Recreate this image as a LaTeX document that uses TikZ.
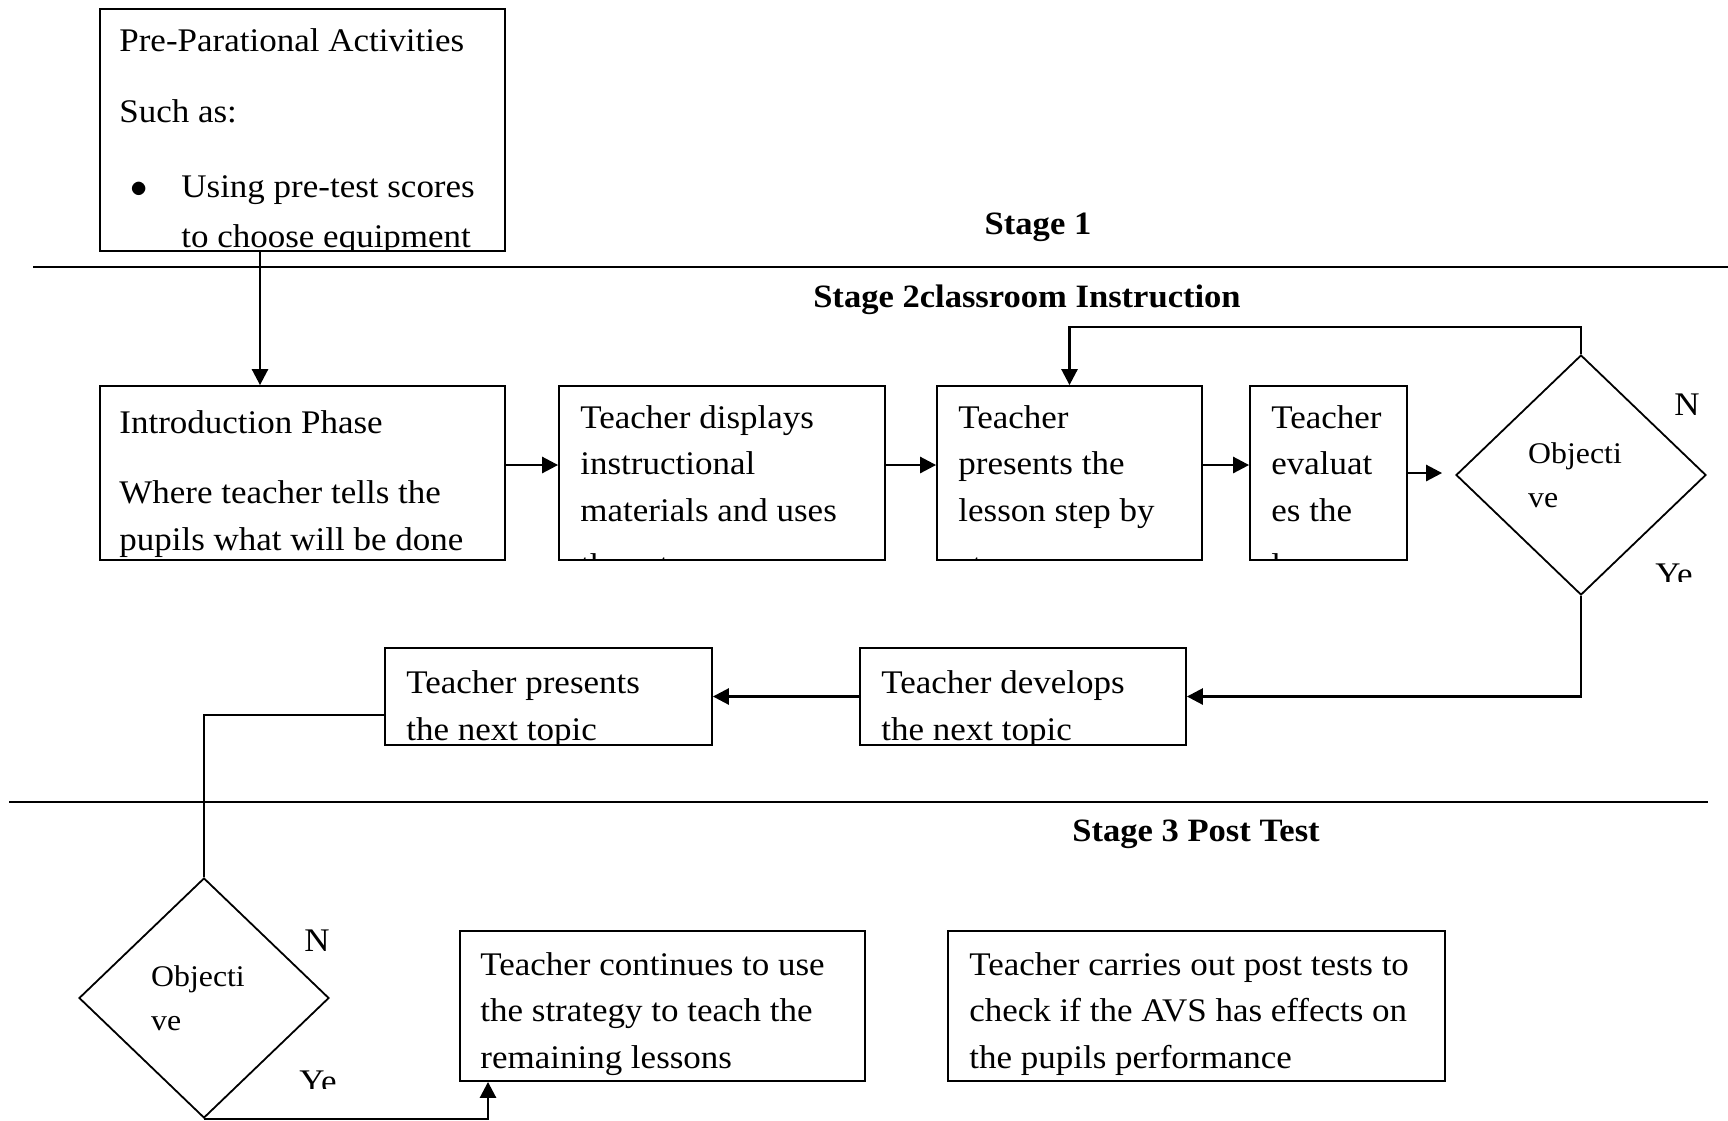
\documentclass[tikz,border=0pt]{standalone}
\usepackage{fontspec}
\setmainfont{Liberation Serif}[FakeStretch=1.06]
\usetikzlibrary{arrows.meta,shapes.geometric,fit}

\tikzset{
  frame/.style={draw, line width=0.9pt, inner sep=0pt},
  % anchored at the baseline of the last line of the block
  body/.style={anchor=base west, inner sep=0pt, align=left,
               font=\fontsize{16.5}{23.3}\selectfont},
  decision/.style={draw, diamond, line width=0.9pt, inner sep=0pt,
               minimum width=125pt, minimum height=120pt, align=left,
               font=\fontsize{15}{22}\selectfont},
  flow/.style={line width=1.35pt, -{Triangle[length=8pt,width=8pt]}},
  thinline/.style={line width=0.7pt},
  divider/.style={line width=0.8pt},
  stage/.style={anchor=base, inner sep=0pt,
               font=\fontsize{16.3}{20}\selectfont\bfseries},
  tag/.style={anchor=base west, inner sep=0pt,
               font=\fontsize{16.5}{20}\selectfont}
}

\begin{document}
\begin{tikzpicture}[x=0.5pt,y=-0.5pt]
\useasboundingbox (0,0) rectangle (1728,1120);

% ---------- stage dividers and titles ----------
\draw[divider] (33,267) -- (1728,267);
\draw[divider] (9,802) -- (1708,802);
\node (s1) [stage] at (1038,234) {Stage 1};
\node (s2) [stage] at (1027,307) {Stage 2classroom Instruction};
\node (s3) [stage] at (1196,841) {Stage 3 Post Test};

% ---------- stage 1: preparation ----------
\begin{scope}
  \clip (100,9) rectangle (505,251);
  \node (t1) [body] at (119,247.6) {Pre-Parational Activities\\[12.2pt]Such as:\\[14.2pt]%
    \makebox[31pt][l]{\makebox[20pt]{$\bullet$}}Using pre-test scores\\[2pt]
    \hspace*{31pt}to choose equipment};
\end{scope}
\node (b1) [frame, fit={(100,9) (505,251)}] {};

% ---------- stage 2: classroom instruction ----------
\begin{scope}
  \clip (100,386) rectangle (505,560);
  \node (t2) [body] at (119,550) {Introduction Phase\\[11.5pt]Where teacher tells the\\pupils what will be done};
\end{scope}
\node (intro) [frame, fit={(100,386) (505,560)}] {};

\begin{scope}
  \clip (559,386) rectangle (885,560);
  \node (t3) [body] at (580,576.8) {Teacher displays\\instructional\\materials and uses\\[4.5pt]them to};
\end{scope}
\node (disp) [frame, fit={(559,386) (885,560)}] {};

\begin{scope}
  \clip (937,386) rectangle (1202,560);
  \node (t4) [body] at (958,576.8) {Teacher\\presents the\\lesson step by\\[4.5pt]step};
\end{scope}
\node (pres) [frame, fit={(937,386) (1202,560)}] {};

\begin{scope}
  \clip (1250,386) rectangle (1407,560);
  \node (t5) [body] at (1271,576.8) {Teacher\\evaluat\\es the\\[4.5pt]lesson};
\end{scope}
\node (eval) [frame, fit={(1250,386) (1407,560)}] {};

\node (dia1) [decision] at (1581,475) {Objecti\hspace*{6pt}\\ve};
\node (n1) [tag] at (1674,415) {N};
\begin{scope}
  \clip (1640,550) rectangle (1720,581);
  \node (y1) [tag] at (1655,585) {Ye};
\end{scope}

\begin{scope}
  \clip (385,648) rectangle (712,745);
  \node (t6) [body] at (406,740.5) {Teacher presents\\the next topic};
\end{scope}
\node (pnext) [frame, fit={(385,648) (712,745)}] {};

\begin{scope}
  \clip (860,648) rectangle (1186,745);
  \node (t7) [body] at (881,740.5) {Teacher develops\\the next topic};
\end{scope}
\node (dev) [frame, fit={(860,648) (1186,745)}] {};

% ---------- stage 3: post test ----------
\node (dia2) [decision] at (204,998) {Objecti\hspace*{6pt}\\ve};
\node (n2) [tag] at (304,951) {N};
\begin{scope}
  \clip (280,1050) rectangle (360,1088);
  \node (y2) [tag] at (299,1092) {Ye};
\end{scope}

\begin{scope}
  \clip (460,931) rectangle (865,1081);
  \node (t8) [body] at (480,1068.5) {Teacher continues to use\\the strategy to teach the\\remaining lessons};
\end{scope}
\node (cont) [frame, fit={(460,931) (865,1081)}] {};

\begin{scope}
  \clip (948,931) rectangle (1445,1081);
  \node (t9) [body] at (969,1068.5) {Teacher carries out post tests to\\check if the AVS has effects on\\the pupils performance};
\end{scope}
\node (post) [frame, fit={(948,931) (1445,1081)}] {};

% ---------- connectors ----------
\coordinate (k1) at (260,0);
\coordinate (k2) at (488,0);
\coordinate (row) at (0,465);
\coordinate (loop) at (0,327);
\coordinate (back) at (0,715);

\draw[flow] (k1 |- b1.south) -- (k1 |- intro.north);
\draw[flow] (intro.east |- row) -- (disp.west |- row);
\draw[flow] (disp.east |- row) -- (pres.west |- row);
\draw[flow] (pres.east |- row) -- (eval.west |- row);
\draw[flow, shorten >=6.5pt] (eval.east) -- (eval.east -| dia1.west);
\draw[flow] (dia1.north) -- (dia1.north |- loop) -| (pres.north);
\draw[flow] (dia1.south) |- (dev.east);
\draw[flow] (dev.west) -- (pnext.east);
\draw[thinline] (pnext.west |- back) -| (dia2.north);
\draw[flow] (dia2.south) -| (k2 |- cont.south);
\end{tikzpicture}
\end{document}
